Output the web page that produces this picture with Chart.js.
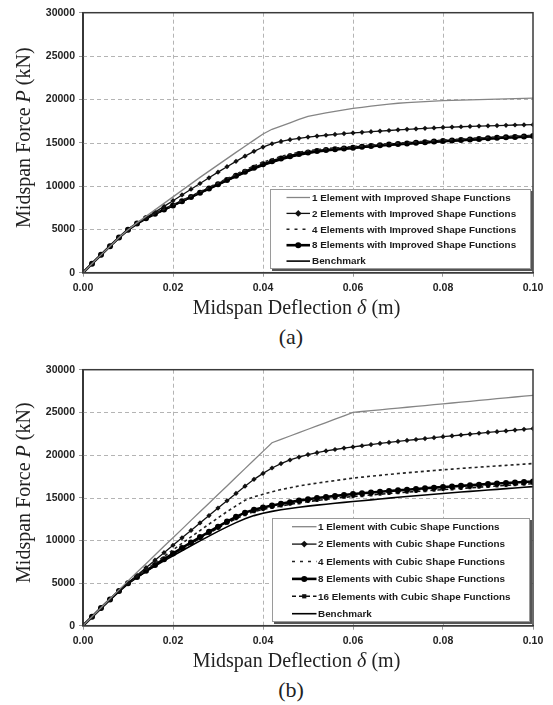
<!DOCTYPE html>
<html lang="en">
<head>
<meta charset="UTF-8">
<title>Midspan force vs midspan deflection</title>
<script src="https://cdn.jsdelivr.net/npm/chart.js@4.4.0/dist/chart.umd.min.js"></script>
<style>
  body { margin: 0; background: #fff; }
  #page { position: relative; width: 553px; height: 705px; overflow: hidden; }
  .box { position: absolute; left: 0; width: 553px; }
  .cap { position: absolute; left: 0; width: 582px; text-align: center; line-height: 24px;
         font: 22px "Liberation Serif", "Times New Roman", serif; color: #222; }
</style>
</head>
<body>
<div id="page">
  <div class="box" style="top:0;height:320px"><canvas id="chartA"></canvas></div>
  <div class="cap" style="top:324px">(a)</div>
  <div class="box" style="top:350px;height:323px"><canvas id="chartB"></canvas></div>
  <div class="cap" style="top:677px">(b)</div>
</div>
<script>
// x positions of the points (m)
const deflection = [0, 0.002, 0.004, 0.006, 0.008, 0.01, 0.012, 0.014, 0.016, 0.018, 0.02,
  0.022, 0.024, 0.026, 0.028, 0.03, 0.032, 0.034, 0.036, 0.038, 0.04,
  0.042, 0.044, 0.046, 0.048, 0.05, 0.052, 0.054, 0.056, 0.058, 0.06,
  0.062, 0.064, 0.066, 0.068, 0.07, 0.072, 0.074, 0.076, 0.078, 0.08,
  0.082, 0.084, 0.086, 0.088, 0.09, 0.092, 0.094, 0.096, 0.098, 0.1];

const xTicks = [0, 0.02, 0.04, 0.06, 0.08, 0.1];
const xTickLabels = ['0.00', '0.02', '0.04', '0.06', '0.08', '0.10'];
const yTicks = [0, 5000, 10000, 15000, 20000, 25000, 30000];
const yTickLabels = ['0', '5000', '10000', '15000', '20000', '25000', '30000'];

// (a) improved shape functions, force in kN
const a1Element = [0, 1040, 2060, 3060, 4050, 4950, 5750, 6500, 7250, 8000, 8750, 9500, 10250, 11000, 11720, 12440,
  13160, 13880, 14600, 15300, 16000, 16550, 16920, 17300, 17680, 18050, 18240, 18430, 18610, 18780, 18950,
  19080, 19210, 19330, 19450, 19550, 19620, 19690, 19750, 19800, 19850, 19880, 19910, 19940, 19970, 20000,
  20030, 20060, 20090, 20120, 20150];
const a2Elements = [0, 1040, 2060, 3060, 4050, 4950, 5700, 6350, 6990, 7650, 8310, 8970, 9630, 10290, 10950, 11600,
  12230, 12850, 13450, 14000, 14500, 14880, 15150, 15350, 15510, 15650, 15760, 15860, 15960, 16050, 16130,
  16200, 16270, 16340, 16410, 16480, 16540, 16600, 16660, 16710, 16760, 16800, 16840, 16880, 16920, 16950,
  16980, 17010, 17040, 17060, 17080];
const a4Elements = [0, 1040, 2060, 3060, 4050, 4950, 5680, 6290, 6820, 7330, 7830, 8335, 8840, 9345, 9850, 10355,
  10860, 11360, 11850, 12320, 12740, 13100, 13410, 13680, 13900, 14070, 14200, 14300, 14390, 14470, 14550,
  14620, 14710, 14800, 14880, 14950, 15020, 15090, 15160, 15230, 15300, 15360, 15420, 15480, 15540, 15600,
  15650, 15700, 15750, 15800, 15840];
const a8Elements = [0, 1040, 2060, 3060, 4050, 4950, 5670, 6270, 6790, 7280, 7765, 8255, 8745, 9235, 9725, 10215,
  10700, 11180, 11650, 12100, 12500, 12850, 13170, 13450, 13690, 13880, 14030, 14150, 14250, 14340, 14430,
  14520, 14610, 14700, 14780, 14850, 14920, 14990, 15060, 15130, 15200, 15260, 15320, 15380, 15440, 15500,
  15560, 15620, 15670, 15720, 15780];
const aBenchmark = [0, 1040, 2060, 3060, 4050, 4950, 5660, 6250, 6760, 7240, 7720, 8200, 8680, 9160, 9640, 10120,
  10600, 11070, 11530, 11970, 12370, 12720, 13040, 13320, 13560, 13760, 13920, 14050, 14160, 14260, 14350,
  14440, 14530, 14620, 14700, 14770, 14840, 14910, 14980, 15050, 15120, 15180, 15240, 15300, 15360, 15420,
  15480, 15540, 15590, 15640, 15700];

// (b) cubic shape functions, force in kN
const b1Element = [0, 1050, 2100, 3150, 4200, 5250, 6260, 7270, 8290, 9300, 10310, 11320, 12340, 13350, 14360, 15370,
  16380, 17400, 18410, 19420, 20430, 21440, 21840, 22230, 22630, 23020, 23420, 23810, 24210, 24600, 25000,
  25100, 25200, 25300, 25400, 25500, 25600, 25700, 25800, 25900, 26000, 26100, 26200, 26300, 26400, 26500,
  26600, 26700, 26800, 26900, 27000];
const b2Elements = [0, 1040, 2070, 3080, 4060, 4980, 5900, 6800, 7680, 8560, 9430, 10300, 11170, 12040, 12910, 13780,
  14640, 15500, 16350, 17150, 17850, 18480, 19000, 19420, 19760, 20050, 20280, 20480, 20650, 20810, 20950,
  21090, 21230, 21360, 21480, 21600, 21710, 21820, 21930, 22040, 22150, 22250, 22350, 22450, 22550, 22650,
  22740, 22830, 22920, 23010, 23100];
const b4Elements = [0, 1040, 2070, 3080, 4060, 4980, 5780, 6560, 7340, 8110, 8880, 9640, 10400, 11150, 11900, 12640,
  13360, 14040, 14700, 15100, 15400, 15700, 15950, 16170, 16370, 16550, 16710, 16860, 17000, 17150, 17300,
  17410, 17520, 17620, 17730, 17830, 17920, 18010, 18100, 18190, 18270, 18350, 18430, 18510, 18580, 18650,
  18720, 18790, 18860, 18930, 19000];
const b8Elements = [0, 1040, 2070, 3080, 4060, 4980, 5720, 6430, 7120, 7800, 8460, 9110, 9750, 10380, 11000, 11610,
  12200, 12760, 13250, 13600, 13860, 14080, 14290, 14480, 14660, 14820, 14960, 15090, 15210, 15320, 15430,
  15520, 15610, 15700, 15780, 15860, 15940, 16020, 16100, 16180, 16250, 16320, 16390, 16460, 16530, 16600,
  16660, 16720, 16780, 16840, 16900];
const b16Elements = [0, 1040, 2070, 3080, 4060, 4980, 5700, 6400, 7080, 7740, 8380, 9010, 9630, 10240, 10840, 11430,
  12000, 12540, 13010, 13360, 13620, 13840, 14040, 14220, 14390, 14540, 14680, 14810, 14930, 15040, 15140,
  15230, 15320, 15410, 15490, 15570, 15650, 15730, 15810, 15880, 15950, 16020, 16090, 16160, 16230, 16300,
  16370, 16440, 16510, 16580, 16650];
const bBenchmark = [0, 1040, 2070, 3080, 4060, 4980, 5680, 6340, 6980, 7600, 8200, 8790, 9370, 9940, 10500, 11050,
  11580, 12080, 12530, 12900, 13180, 13400, 13580, 13740, 13880, 14010, 14130, 14240, 14350, 14450, 14550,
  14650, 14750, 14850, 14950, 15050, 15140, 15230, 15320, 15410, 15500, 15580, 15660, 15740, 15820, 15900,
  15980, 16060, 16140, 16220, 16300];

// line looks, shared by both panels
const looks = {
  gray:   { borderColor: '#858585', borderWidth: 1.3, pointRadius: 0 },
  marks:  { borderColor: '#111', borderWidth: 1.3, pointStyle: 'rectRot', pointRadius: 2.6,
            pointBackgroundColor: '#111', pointBorderColor: '#111', pointBorderWidth: 0 },
  dash:   { borderColor: '#222', borderWidth: 1.6, borderDash: [3, 3], legendDash: [3, 5], pointRadius: 0 },
  beads:  { borderColor: '#000', borderWidth: 2.6, pointStyle: 'circle', pointRadius: 3,
            pointBackgroundColor: '#000', pointBorderColor: '#000', pointBorderWidth: 0 },
  dmarks: { borderColor: '#111', borderWidth: 1.6, borderDash: [4, 3], pointStyle: 'rect', pointRadius: 2.1,
            pointBackgroundColor: '#111', pointBorderColor: '#111', pointBorderWidth: 0 },
  bench:  { borderColor: '#000', borderWidth: 1.6, pointRadius: 0 }
};

const serif = '"Liberation Serif", "Times New Roman", serif';
Chart.defaults.font.family = '"Liberation Sans", Arial, sans-serif';

function drawMark(ctx, style, r, x, y, color) {
  ctx.save();
  ctx.fillStyle = color;
  ctx.beginPath();
  if (style === 'circle') ctx.arc(x, y, r, 0, Math.PI * 2);
  else if (style === 'rectRot') { ctx.moveTo(x, y - r * 1.3); ctx.lineTo(x + r * 1.3, y); ctx.lineTo(x, y + r * 1.3); ctx.lineTo(x - r * 1.3, y); }
  else ctx.rect(x - r, y - r, r * 2, r * 2);
  ctx.fill();
  ctx.restore();
}

// text with some italic pieces, centred on (cx, cy)
function mixedText(ctx, parts, cx, cy) {
  const fonts = parts.map(p => (p[1] ? 'italic ' : '') + '20px ' + serif);
  const widths = parts.map((p, i) => { ctx.font = fonts[i]; return ctx.measureText(p[0]).width; });
  let x = cx - widths.reduce((s, w) => s + w, 0) / 2;
  ctx.textAlign = 'left';
  ctx.textBaseline = 'middle';
  parts.forEach((p, i) => { ctx.font = fonts[i]; ctx.fillText(p[0], x, cy); x += widths[i]; });
}

const paper = {
  id: 'paper',
  // dashed grid inside the plot
  beforeDatasetsDraw(chart) {
    const ctx = chart.ctx, a = chart.chartArea, sx = chart.scales.x, sy = chart.scales.y;
    ctx.save();
    ctx.strokeStyle = '#b4b4b4';
    ctx.lineWidth = 1;
    ctx.setLineDash([4, 3]);
    xTicks.slice(1, -1).forEach(v => {
      const x = Math.round(sx.getPixelForValue(v)) + 0.5;
      ctx.beginPath(); ctx.moveTo(x, a.top); ctx.lineTo(x, a.bottom); ctx.stroke();
    });
    yTicks.slice(1, -1).forEach(v => {
      const y = Math.round(sy.getPixelForValue(v)) + 0.5;
      ctx.beginPath(); ctx.moveTo(a.left, y); ctx.lineTo(a.right, y); ctx.stroke();
    });
    ctx.restore();
  },
  afterDatasetsDraw(chart, args, o) {
    const ctx = chart.ctx, a = chart.chartArea, g = o.legend;
    ctx.save();
    ctx.strokeStyle = '#3a3a3a';
    ctx.lineWidth = 1.5;
    ctx.strokeRect(a.left, a.top, a.right - a.left, a.bottom - a.top);

    // legend box with a little shadow
    ctx.fillStyle = '#555';
    ctx.fillRect(g.x + 2, g.y + 2, g.w, g.h);
    ctx.fillStyle = '#fff';
    ctx.fillRect(g.x, g.y, g.w, g.h);
    ctx.strokeStyle = '#9a9a9a';
    ctx.lineWidth = 1;
    ctx.strokeRect(g.x + 0.5, g.y + 0.5, g.w - 1, g.h - 1);

    ctx.font = 'bold 9.9px "Liberation Sans", Arial, sans-serif';
    chart.data.datasets.forEach((ds, i) => {
      const y = g.row0 + i * g.step;
      ctx.save();
      ctx.strokeStyle = ds.borderColor;
      ctx.lineWidth = ds.borderWidth;
      ctx.setLineDash(ds.legendDash || ds.borderDash || []);
      ctx.beginPath();
      ctx.moveTo(g.line0, y);
      ctx.lineTo(g.line1, y);
      ctx.stroke();
      ctx.restore();
      if (ds.pointRadius > 0) drawMark(ctx, ds.pointStyle, ds.pointRadius, (g.line0 + g.line1) / 2, y, ds.pointBackgroundColor);
      ctx.fillStyle = '#1a1a1a';
      ctx.textAlign = 'left';
      ctx.textBaseline = 'middle';
      ctx.fillText(ds.label, g.text, y + 0.5);
    });
    ctx.restore();
  },
  afterDraw(chart, args, o) {
    const ctx = chart.ctx, a = chart.chartArea;
    ctx.save();
    ctx.fillStyle = '#222';
    mixedText(ctx, [['Midspan Deflection ', false], ['\u03b4', true], [' (m)', false]], o.xTitleX, a.bottom + 36);
    ctx.translate(o.yTitleX, (a.top + a.bottom) / 2 - 5);
    ctx.rotate(-Math.PI / 2);
    mixedText(ctx, [['Midspan Force ', false], ['P', true], [' (kN)', false]], 0, 0);
    ctx.restore();
  }
};

function makeChart(id, sets, lay) {
  return new Chart(document.getElementById(id), {
    type: 'line',
    data: {
      datasets: sets.map(s => Object.assign({
        label: s.label,
        data: deflection.map((d, i) => ({ x: d, y: s.values[i] })),
        tension: 0,
        pointHoverRadius: 0
      }, looks[s.look]))
    },
    options: {
      responsive: true,
      maintainAspectRatio: false,
      animation: false,
      events: [],
      layout: { padding: { top: lay.padTop, right: 20, left: 0, bottom: 0 } },
      plugins: {
        legend: { display: false },
        tooltip: { enabled: false },
        paper: { legend: lay.legend, xTitleX: 296.5, yTitleX: 24.6 }
      },
      scales: {
        x: {
          type: 'linear', min: 0, max: 0.1,
          afterFit: s => { s.height = lay.xAxisH; },
          afterBuildTicks: s => { s.ticks = xTicks.map(v => ({ value: v })); },
          ticks: { padding: 5, color: '#222', maxRotation: 0, autoSkip: false,
                   font: { size: 10.5, weight: 'bold' }, callback: (v, i) => xTickLabels[i] },
          grid: { drawOnChartArea: false, tickColor: '#999', tickLength: 4 },
          border: { color: '#333', width: 1.5 }
        },
        y: {
          min: 0, max: 30000,
          afterFit: s => { s.width = 83; },
          afterBuildTicks: s => { s.ticks = yTicks.map(v => ({ value: v })); },
          ticks: { padding: 4, color: '#222', font: { size: 10.5, weight: 'bold' },
                   callback: (v, i) => yTickLabels[i] },
          grid: { drawOnChartArea: false, tickColor: '#999', tickLength: 4 },
          border: { color: '#333', width: 2 }
        }
      }
    },
    plugins: [paper]
  });
}

makeChart('chartA', [
  { label: '1 Element with Improved Shape Functions', values: a1Element, look: 'gray' },
  { label: '2 Elements with Improved Shape Functions', values: a2Elements, look: 'marks' },
  { label: '4 Elements with Improved Shape Functions', values: a4Elements, look: 'dash' },
  { label: '8 Elements with Improved Shape Functions', values: a8Elements, look: 'beads' },
  { label: 'Benchmark', values: aBenchmark, look: 'bench' }
], {
  padTop: 12.7, xAxisH: 47.3,
  legend: { x: 270, y: 189, w: 261, h: 80, row0: 197.5, step: 15.9, line0: 286.5, line1: 310, text: 312 }
});

makeChart('chartB', [
  { label: '1 Element with Cubic Shape Functions', values: b1Element, look: 'gray' },
  { label: '2 Elements with Cubic Shape Functions', values: b2Elements, look: 'marks' },
  { label: '4 Elements with Cubic Shape Functions', values: b4Elements, look: 'dash' },
  { label: '8 Elements with Cubic Shape Functions', values: b8Elements, look: 'beads' },
  { label: '16 Elements with Cubic Shape Functions', values: b16Elements, look: 'dmarks' },
  { label: 'Benchmark', values: bBenchmark, look: 'bench' }
], {
  padTop: 19.7, xAxisH: 47.3,
  legend: { x: 272, y: 168, w: 258, h: 104, row0: 176.7, step: 17.4, line0: 292, line1: 316.5, text: 318 }
});
</script>
</body>
</html>
